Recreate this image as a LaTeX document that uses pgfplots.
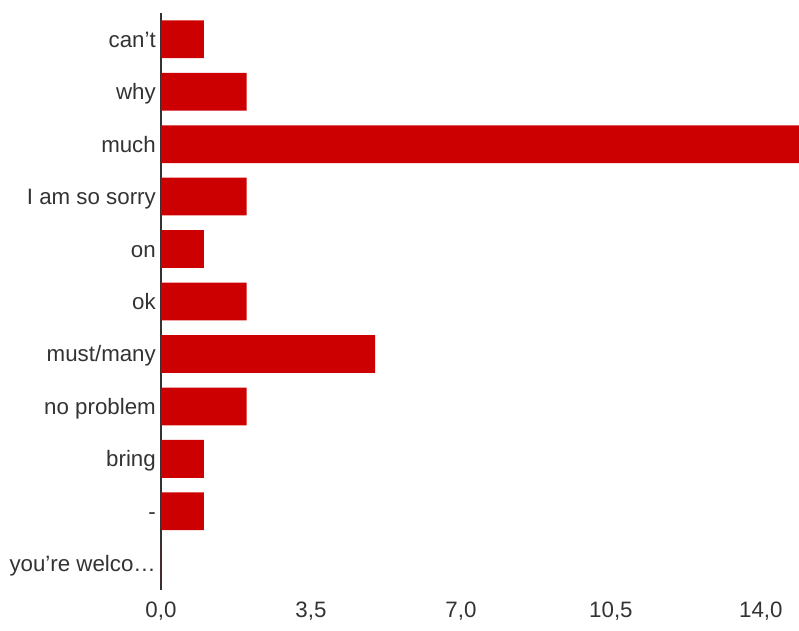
\documentclass[border=0pt]{standalone}
\usepackage{pgfplots}
\pgfplotsset{compat=1.18}
\usepackage{fontspec}
\setmainfont{Liberation Sans}
\definecolor{barred}{HTML}{CC0000}
\definecolor{txt}{HTML}{333333}
\begin{document}
\begin{tikzpicture}
\path[use as bounding box] (-161pt,-40pt) rectangle (638pt,590pt);
\begin{axis}[
  at={(0pt,0pt)}, anchor=south west,
  scale only axis, width=638pt, height=577pt,
  xbar, bar width=0.72,
  xmin=0, xmax=14.89,
  ymin=-0.5, ymax=10.5, y dir=reverse,
  ytick={0,1,2,3,4,5,6,7,8,9,10},
  yticklabels={can’t,why,much,I am so sorry,on,ok,must/many,no problem,bring,-,you’re welco…},
  xtick={0,3.5,7,10.5,14},
  xticklabels={{0,0},{3,5},{7,0},{10,5},{14,0}},
  major tick length=0pt,
  axis x line*=bottom, axis y line*=left,
  x axis line style={draw=none},
  y axis line style={draw=txt, line width=2.7pt},
  ticklabel style={font=\fontsize{22.3}{26}\selectfont, text=txt},
  yticklabel style={anchor=base east, inner sep=0pt, xshift=-5pt, yshift=-8pt},
  xticklabel style={anchor=north, inner sep=0pt, yshift=-12pt},
  clip=true,
]
\addplot[draw=none, fill=barred] coordinates {
  (1,0) (2,1) (15,2) (2,3) (1,4) (2,5) (5,6) (2,7) (1,8) (1,9) (0,10)
};
\end{axis}
\end{tikzpicture}
\end{document}
